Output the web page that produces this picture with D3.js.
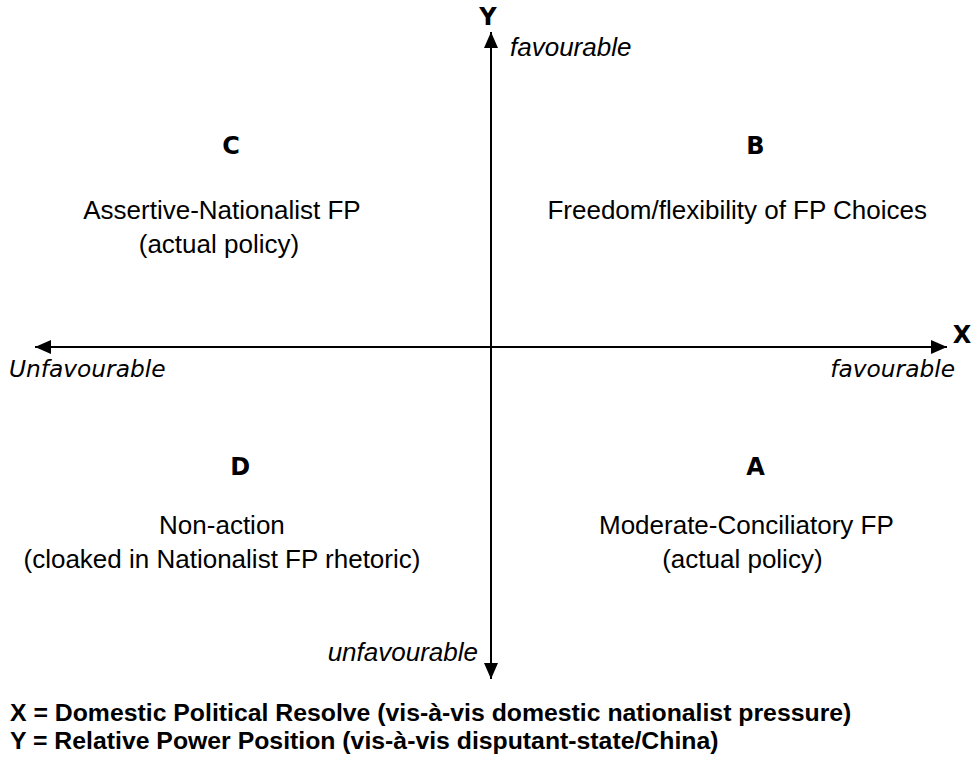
<html>
<head>
<script src="https://cdn.jsdelivr.net/npm/d3@7"></script>
<style>
  body { margin: 0; background: #fff; }
</style>
</head>
<body>
<svg id="container" width="972" height="759"></svg>
<script>
    // quadrant content
    let quadLetters = ["B", "C", "D", "A"]
    let quadSides = [[1, 1], [-1, 1], [-1, -1], [1, -1]]
    let quadLines = [
      ["Freedom/flexibility of FP Choices"],
      ["Assertive-Nationalist FP", "(actual policy)"],
      ["Non-action", "(cloaked in Nationalist FP rhetoric)"],
      ["Moderate-Conciliatory FP", "(actual policy)"]
    ]
    let axisNames = ["X", "Y"]
    let xEndLabels = ["Unfavourable", "favourable"]
    let yEndLabels = ["unfavourable", "favourable"]
    let definitions = [
      "X = Domestic Political Resolve (vis-à-vis domestic nationalist pressure)",
      "Y = Relative Power Position (vis-à-vis disputant-state/China)"
    ]

    let svg = d3.select("#container")

    let x = d3.scaleLinear().domain([-1, 0, 1]).range([35, 491, 947])
    let y = d3.scaleLinear().domain([-1, 0, 1]).range([679, 347, 32])

    let arrow = svg.append("defs").append("marker")
        .attr("id", "arrow")
        .attr("viewBox", "0 0 16 14")
        .attr("refX", 16).attr("refY", 7)
        .attr("markerWidth", 16).attr("markerHeight", 14)
        .attr("markerUnits", "userSpaceOnUse")
        .attr("orient", "auto-start-reverse")
    arrow.append("path").attr("d", "M0,0 L16,7 L0,14 Z").attr("fill", "black")

    // axes
    svg.append("line")
        .attr("x1", x(-1)).attr("x2", x(1))
        .attr("y1", y(0)).attr("y2", y(0))
        .attr("stroke", "black").attr("stroke-width", 2)
        .attr("marker-start", "url(#arrow)").attr("marker-end", "url(#arrow)")
    svg.append("line")
        .attr("x1", x(0)).attr("x2", x(0))
        .attr("y1", y(-1)).attr("y2", y(1))
        .attr("stroke", "black").attr("stroke-width", 2)
        .attr("marker-start", "url(#arrow)").attr("marker-end", "url(#arrow)")

    let boldV = "'DejaVu Sans', Verdana, sans-serif"
    let arial = "'Liberation Sans', Arial, sans-serif"

    // axis names
    svg.append("text").text(axisNames[0])
        .attr("x", 962).attr("y", y(0) - 4)
        .attr("text-anchor", "middle")
        .style("font-family", boldV).style("font-weight", "bold").style("font-size", "24px")
    svg.append("text").text(axisNames[1])
        .attr("x", x(0) - 3).attr("y", 25)
        .attr("text-anchor", "middle")
        .style("font-family", boldV).style("font-weight", "bold").style("font-size", "24px")

    // end labels
    svg.append("text").text(xEndLabels[0])
        .attr("x", 9).attr("y", y(0) + 30)
        .style("font-family", boldV).style("font-style", "italic").style("font-size", "23.3px")
    svg.append("text").text(xEndLabels[1])
        .attr("x", 955).attr("y", y(0) + 30).attr("text-anchor", "end")
        .style("font-family", boldV).style("font-style", "italic").style("font-size", "23.3px")
    svg.append("text").text(yEndLabels[1])
        .attr("x", x(0) + 19).attr("y", 56)
        .style("font-family", arial).style("font-style", "italic").style("font-size", "26px")
    svg.append("text").text(yEndLabels[0])
        .attr("x", x(0) - 13).attr("y", 661).attr("text-anchor", "end")
        .style("font-family", arial).style("font-style", "italic").style("font-size", "26px")

    // quadrants
    let quads = svg.selectAll("g.quad")
        .data(quadLetters.map((d, i) => ({letter: d, side: quadSides[i], lines: quadLines[i]})))
        .enter().append("g").attr("class", "quad")

    quads.append("text")
        .text(d => d.letter)
        .attr("x", d => d.side[0] > 0 ? x(0.58) : (d.side[1] > 0 ? x(-0.57) : x(-0.55)))
        .attr("y", d => d.side[1] > 0 ? 154 : 475)
        .attr("text-anchor", "middle")
        .style("font-family", boldV).style("font-weight", "bold").style("font-size", "24px")

    quads.each(function(d) {
      let g = d3.select(this)
      let y0 = d.side[1] > 0 ? 219 : 534
      d.lines.forEach((line, j) => {
        let cx
        if (d.side[0] < 0) cx = x(-0.59) - (j === 1 && d.side[1] > 0 ? 3 : 0)
        else if (d.side[1] > 0) cx = x(0.54)
        else cx = x(0.56) - (j === 1 ? 4 : 0)
        g.append("text").text(line)
            .attr("x", cx)
            .attr("y", y0 + j * 34)
            .attr("text-anchor", "middle")
            .style("font-family", arial).style("font-size", "26px")
      })
    })

    // definitions
    svg.selectAll("text.def")
        .data(definitions)
        .enter().append("text").attr("class", "def")
        .text(d => d)
        .attr("x", 10).attr("y", (d, i) => 721 + i * 28)
        .style("font-family", arial).style("font-weight", "bold").style("font-size", "24.8px")
</script>
</body>
</html>
